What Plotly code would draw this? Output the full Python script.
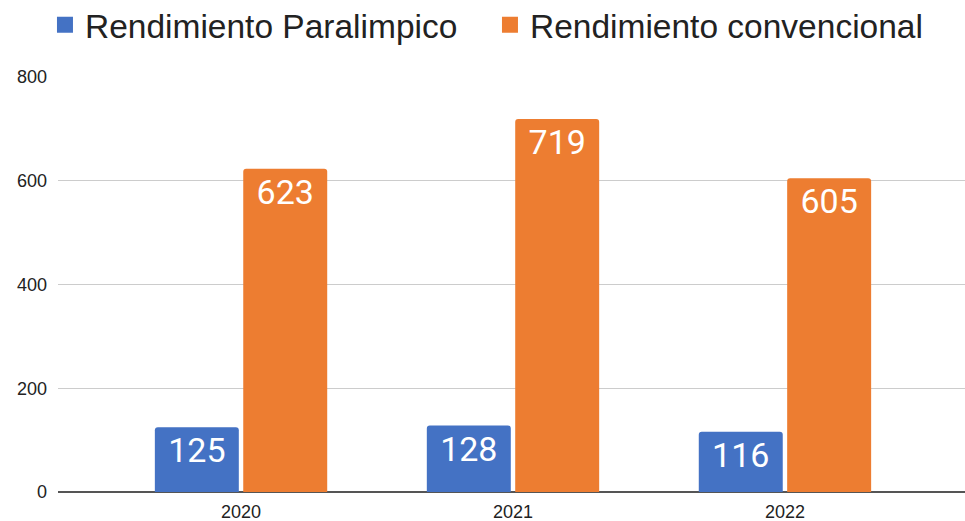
import plotly.graph_objects as go

years = ["2020", "2021", "2022"]
paralimpico = [125, 128, 116]
convencional = [623, 719, 605]
series_names = ["Rendimiento Paralimpico", "Rendimiento convencional"]
colors = ["#4472C4", "#ED7D31"]
y_ticks = [0, 200, 400, 600, 800]

fig = go.Figure()
for name, vals, col in zip(series_names, [paralimpico, convencional], colors):
    fig.add_trace(go.Bar(
        x=years, y=vals, name=name, showlegend=False,
        marker=dict(color=col, line=dict(width=0), cornerradius=3),
        text=[str(v) for v in vals],
        textposition="inside", insidetextanchor="end",
        textfont=dict(family="Roboto", size=34, color="white"),
        textangle=0,
    ))
# legend entries with larger square swatches
for name, col in zip(series_names, colors):
    fig.add_trace(go.Scatter(
        x=[None], y=[None], mode="markers", name=name,
        marker=dict(symbol="square", size=18, color=col),
    ))

fig.update_layout(
    width=965, height=521,
    margin=dict(l=58, r=0, t=77, b=29, autoexpand=False),
    paper_bgcolor="white", plot_bgcolor="white",
    barmode="group", bargap=0.35, bargroupgap=0.05,
    font=dict(family="Liberation Sans, Arial", color="#222"),
    legend=dict(orientation="h", xref="container", x=0.0466, xanchor="left",
                yref="container", y=1 - 25 / 521, yanchor="middle",
                font=dict(size=33.5, color="#222"), itemsizing="trace",
                entrywidth=400, entrywidthmode="pixels",
                traceorder="normal"),
    showlegend=True,
)
fig.update_xaxes(type="category", range=[-0.673, 2.662], showgrid=False, automargin=False,
                 tickfont=dict(size=18, color="#222"), ticks="", showline=False,
                 ticklabelstandoff=7)
fig.update_yaxes(range=[0, 800], tickvals=y_ticks, showgrid=True, gridcolor="#cccccc",
                 gridwidth=1, zeroline=True, zerolinecolor="#555555", zerolinewidth=2,
                 automargin=False,
                 tickfont=dict(size=18, color="#222"), ticklabelstandoff=10)

fig.write_html("out.html", config={"displayModeBar": False},
               post_script="document.body.style.margin='0';")
